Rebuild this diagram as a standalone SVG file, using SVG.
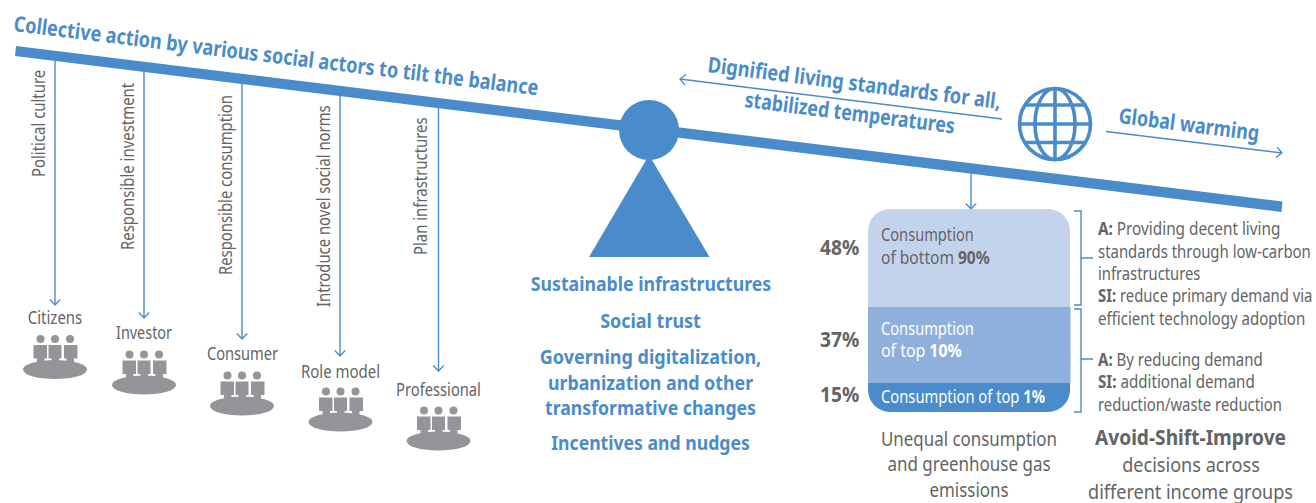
<svg xmlns="http://www.w3.org/2000/svg" width="1316" height="503" viewBox="0 0 1316 503">
<style>
text{font-family:"Noto Sans","Open Sans","Liberation Sans",sans-serif;fill:#636466;font-size:17.500px}
.b{font-weight:700}
.blue{fill:#4a8ccb;font-weight:700}
.h{font-size:20.500px}
.e{font-size:19px}
.t{font-size:21.500px}
.w{fill:#fff}
.c{text-anchor:middle}
.conn{fill:none;stroke:#4a8ccb;stroke-width:1.4}
.icon{fill:#949598}
</style>
<defs>
<marker id="arr" viewBox="0 0 12 12" refX="10.5" refY="6" markerWidth="12" markerHeight="12" markerUnits="userSpaceOnUse" orient="auto"><path d="M5 0.8L10.5 6L5 11.2" fill="none" stroke="#4a8ccb" stroke-width="1.3"/></marker>
<g id="people">
<ellipse cx="0" cy="0" rx="32" ry="9.500"/>
<circle cx="-14.500" cy="-30.500" r="4"/><circle cx="0" cy="-30.500" r="4"/><circle cx="15" cy="-30.500" r="4"/>
<path d="M-21.500-24.500H-8V-11H-10.500V-6H-18V-11H-21.500Z"/>
<path d="M-6.500-24.500H6.500V-11H4V-6H-3.500V-11H-6.500Z"/>
<path d="M9-24.500H22.500V-11H19V-6H11.500V-11H9Z"/>
</g>
</defs>

<g id="connectors">
<path class="conn" marker-end="url(#arr)" d="M55 61V305"/>
<path class="conn" marker-end="url(#arr)" d="M144 72V318"/>
<path class="conn" marker-end="url(#arr)" d="M242 84V339"/>
<path class="conn" marker-end="url(#arr)" d="M340 96V356"/>
<path class="conn" marker-end="url(#arr)" d="M438.500 108V371"/>
<path class="conn" marker-end="url(#arr)" d="M971 172V209"/>
<path class="conn" marker-end="url(#arr)" d="M1002 119L680 79"/>
<path class="conn" marker-end="url(#arr)" d="M1106 131.500L1282 153"/>
<path class="conn" d="M1074 211H1081V305H1074M1081 258H1093"/>
<path class="conn" d="M1074 309H1081V412H1074M1081 359H1093"/>
</g>

<g id="balance">
<path fill="#4a8ccb" d="M16 46L1282.500 201.500L1281.500 212L15 56Z"/>
<circle cx="649" cy="130" r="30" fill="#4a8ccb"/>
<path fill="#4a8ccb" d="M649 155L709.500 257H589Z"/>
</g>

<g id="title"><text class="blue t" transform="translate(13 31) rotate(7) scale(.9 1)" textLength="587" lengthAdjust="spacingAndGlyphs">Collective action by various social actors to tilt the balance</text></g>
<g id="goal">
<text class="blue t" transform="translate(707 72) rotate(7.200) scale(.9 1)" textLength="328" lengthAdjust="spacingAndGlyphs">Dignified living standards for all,</text>
<text class="blue t" transform="translate(744 107) rotate(7.200) scale(.9 1)" textLength="235" lengthAdjust="spacingAndGlyphs">stabilized temperatures</text>
</g>
<g id="warming"><text class="blue t" transform="translate(1118 123) rotate(7.200) scale(.9 1)" textLength="157" lengthAdjust="spacingAndGlyphs">Global warming</text></g>

<g id="globe" fill="none" stroke="#4a8ccb" stroke-width="3.600">
<circle cx="1055" cy="124" r="35.500"/>
<ellipse cx="1055" cy="124" rx="20" ry="35.500"/>
<path d="M1055 88.500V159.500M1019.500 124H1090.500M1026 105H1084M1026 142.500H1084"/>
</g>

<g id="actor-citizens"><use href="#people" class="icon" x="55" y="369.500"/><text class="c" transform="translate(55 324) scale(.8 1)" textLength="68" lengthAdjust="spacingAndGlyphs">Citizens</text><text transform="translate(45 177) rotate(-90) scale(.8 1)" textLength="134" lengthAdjust="spacingAndGlyphs">Political culture</text></g>
<g id="actor-investor"><use href="#people" class="icon" x="144" y="385"/><text class="c" transform="translate(144 339) scale(.8 1)" textLength="70" lengthAdjust="spacingAndGlyphs">Investor</text><text transform="translate(134 250) rotate(-90) scale(.8 1)" textLength="209" lengthAdjust="spacingAndGlyphs">Responsible investment</text></g>
<g id="actor-consumer"><use href="#people" class="icon" x="242" y="406"/><text class="c" transform="translate(242.500 360) scale(.8 1)" textLength="89" lengthAdjust="spacingAndGlyphs">Consumer</text><text transform="translate(232 275) rotate(-90) scale(.8 1)" textLength="225" lengthAdjust="spacingAndGlyphs">Responsible consumption</text></g>
<g id="actor-role-model"><use href="#people" class="icon" x="340.500" y="422"/><text class="c" transform="translate(340.500 378) scale(.8 1)" textLength="99" lengthAdjust="spacingAndGlyphs">Role model</text><text transform="translate(330 307) rotate(-90) scale(.8 1)" textLength="252" lengthAdjust="spacingAndGlyphs">Introduce novel social norms</text></g>
<g id="actor-professional"><use href="#people" class="icon" x="438.500" y="441"/><text class="c" transform="translate(438.500 396) scale(.8 1)" textLength="106" lengthAdjust="spacingAndGlyphs">Professional</text><text transform="translate(427 255) rotate(-90) scale(.8 1)" textLength="172" lengthAdjust="spacingAndGlyphs">Plan infrastructures</text></g>

<g id="enablers">
<text class="blue e c" transform="translate(651 291) scale(.95 1)" textLength="253" lengthAdjust="spacingAndGlyphs">Sustainable infrastructures</text>
<text class="blue e c" transform="translate(650.500 328) scale(.95 1)" textLength="106" lengthAdjust="spacingAndGlyphs">Social trust</text>
<text class="blue e c" transform="translate(650.500 364) scale(.95 1)" textLength="233" lengthAdjust="spacingAndGlyphs">Governing digitalization,</text>
<text class="blue e c" transform="translate(650.500 390) scale(.95 1)" textLength="216" lengthAdjust="spacingAndGlyphs">urbanization and other</text>
<text class="blue e c" transform="translate(650.500 415) scale(.95 1)" textLength="222" lengthAdjust="spacingAndGlyphs">transformative changes</text>
<text class="blue e c" transform="translate(650.500 450) scale(.95 1)" textLength="209" lengthAdjust="spacingAndGlyphs">Incentives and nudges</text>
</g>

<g id="consumption-stack">
<path fill="#c3d3ec" d="M868 307V231a22 22 0 0 1 22-22H1048a22 22 0 0 1 22 22V307Z"/>
<rect x="868" y="307" width="202.500" height="76" fill="#8fafdc"/>
<path fill="#4a8ccb" d="M868 383H1070V390a22 22 0 0 1-22 22H890a22 22 0 0 1-22-22Z"/>
<text transform="translate(881 241) scale(.8 1)" textLength="116" lengthAdjust="spacingAndGlyphs">Consumption</text>
<text transform="translate(881 264) scale(.8 1)" textLength="136" lengthAdjust="spacingAndGlyphs">of bottom <tspan class="b">90%</tspan></text>
<text class="w" transform="translate(881 335) scale(.8 1)" textLength="116" lengthAdjust="spacingAndGlyphs">Consumption</text>
<text class="w" transform="translate(881 357) scale(.8 1)" textLength="101" lengthAdjust="spacingAndGlyphs">of top <tspan class="b w">10%</tspan></text>
<text class="w" transform="translate(881 403) scale(.8 1)" textLength="205" lengthAdjust="spacingAndGlyphs">Consumption of top <tspan class="b w">1%</tspan></text>
<text class="b h" transform="translate(820 255) scale(.8 1)" textLength="49" lengthAdjust="spacingAndGlyphs">48%</text>
<text class="b h" transform="translate(820 347) scale(.8 1)" textLength="49" lengthAdjust="spacingAndGlyphs">37%</text>
<text class="b h" transform="translate(820 402) scale(.8 1)" textLength="49" lengthAdjust="spacingAndGlyphs">15%</text>
<text class="c h" transform="translate(969 446) scale(.8 1)" textLength="220" lengthAdjust="spacingAndGlyphs">Unequal consumption</text>
<text class="c h" transform="translate(969 471) scale(.8 1)" textLength="204" lengthAdjust="spacingAndGlyphs">and greenhouse gas</text>
<text class="c h" transform="translate(969 497) scale(.8 1)" textLength="99" lengthAdjust="spacingAndGlyphs">emissions</text>
</g>

<g id="decisions">
<text transform="translate(1098 235) scale(.8 1)" textLength="228" lengthAdjust="spacingAndGlyphs"><tspan class="b">A:</tspan> Providing decent living</text>
<text transform="translate(1098 258) scale(.8 1)" textLength="266" lengthAdjust="spacingAndGlyphs">standards through low-carbon</text>
<text transform="translate(1098 280) scale(.8 1)" textLength="128" lengthAdjust="spacingAndGlyphs">infrastructures</text>
<text transform="translate(1098 302) scale(.8 1)" textLength="268" lengthAdjust="spacingAndGlyphs"><tspan class="b">SI:</tspan> reduce primary demand via</text>
<text transform="translate(1098 325) scale(.8 1)" textLength="259" lengthAdjust="spacingAndGlyphs">efficient technology adoption</text>
<text transform="translate(1098 366) scale(.8 1)" textLength="206" lengthAdjust="spacingAndGlyphs"><tspan class="b">A:</tspan> By reducing demand</text>
<text transform="translate(1098 388) scale(.8 1)" textLength="196" lengthAdjust="spacingAndGlyphs"><tspan class="b">SI:</tspan> additional demand</text>
<text transform="translate(1098 411) scale(.8 1)" textLength="230" lengthAdjust="spacingAndGlyphs">reduction/waste reduction</text>
<text class="b c t" transform="translate(1190.500 445) scale(.82 1)" textLength="233" lengthAdjust="spacingAndGlyphs">Avoid-Shift-Improve</text>
<text class="c h" transform="translate(1191 472) scale(.8 1)" textLength="172" lengthAdjust="spacingAndGlyphs">decisions across</text>
<text class="c h" transform="translate(1190.500 499) scale(.8 1)" textLength="256" lengthAdjust="spacingAndGlyphs">different income groups</text>
</g>
</svg>
